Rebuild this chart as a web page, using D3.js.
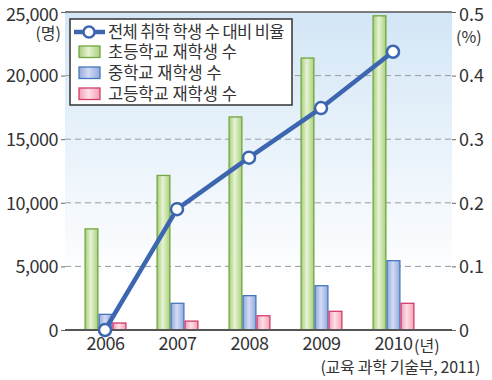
<!DOCTYPE html>
<html><head><meta charset="utf-8">
<script src="https://cdn.jsdelivr.net/npm/d3@7"></script>
<style>body{margin:0;background:#fff}svg{display:block}text{font-family:"Noto Sans CJK KR","Noto Sans",sans-serif;fill:#333}</style>
</head><body><svg id="c" width="492" height="380"></svg>
<script>
const years = ["2006","2007","2008","2009","2010"];
const elementary = [7950, 12150, 16750, 21380, 24700];
const middle = [1230, 2100, 2700, 3480, 5450];
const high = [550, 700, 1120, 1470, 2100];
const ratio = [0.0, 0.19, 0.271, 0.349, 0.4375];
const leftTicks = [0, 5000, 10000, 15000, 20000, 25000];
const rightTicks = [0, 0.1, 0.2, 0.3, 0.4, 0.5];
const legendLabels = ["전체 취학 학생 수 대비 비율","초등학교 재학생 수","중학교 재학생 수","고등학교 재학생 수"];

const svg = d3.select("#c");
const L = 65, R = 452, T = 12, B = 330;
const x = d3.scalePoint().domain(years).range([105, 393]);
const y = d3.scaleLinear().domain([0, 25000]).range([B, T]);
const y2 = d3.scaleLinear().domain([0, 0.5]).range([B, T]);

const defs = svg.append("defs");
const bg = defs.append("linearGradient").attr("id","bg").attr("x1",0).attr("y1",0).attr("x2",0).attr("y2",1);
bg.append("stop").attr("offset","0").attr("stop-color","#d3e6f6");
bg.append("stop").attr("offset","0.85").attr("stop-color","#ffffff");
function barGrad(id, edge, mid){
  const g = defs.append("linearGradient").attr("id",id).attr("x1",0).attr("y1",0).attr("x2",1).attr("y2",0);
  g.append("stop").attr("offset","0").attr("stop-color",edge);
  g.append("stop").attr("offset","0.45").attr("stop-color",mid);
  g.append("stop").attr("offset","1").attr("stop-color",edge);
}
barGrad("gG","#a9cf7c","#e6f3d4");
barGrad("gB","#95a9de","#d2dbf4");
barGrad("gP","#f59fb5","#fde0e8");

svg.append("rect").attr("x",L).attr("y",T).attr("width",R-L).attr("height",B-T).attr("fill","url(#bg)");

// grid
svg.append("g").selectAll("line").data(leftTicks.filter(d=>d>0&&d<25000)).join("line")
  .attr("x1",L).attr("x2",R).attr("y1",d=>y(d)).attr("y2",d=>y(d))
  .attr("stroke","#9a9a9a").attr("stroke-width",1).attr("stroke-dasharray","6,4");

// top border
svg.append("line").attr("x1",L).attr("x2",R).attr("y1",T).attr("y2",T).attr("stroke","#555").attr("stroke-width",1.5);

// axes
const ax = svg.append("g").attr("transform",`translate(${L},0)`)
  .call(d3.axisLeft(y).tickValues(leftTicks).tickSize(4).tickPadding(3).tickFormat(d3.format(",")));
ax.select(".domain").remove();
ax.selectAll("line").attr("stroke","#666");
ax.selectAll("text").style("font-size","18px").attr("fill","#333").attr("dy","0.35em").attr("letter-spacing","-0.5");
ax.selectAll(".tick").filter(d=>d===25000).select("text").attr("dy","0.45em");
const ax2 = svg.append("g").attr("transform",`translate(${R},0)`)
  .call(d3.axisRight(y2).tickValues(rightTicks).tickSize(4).tickPadding(3).tickFormat(d=>d===0?"0":d3.format(".1f")(d)));
ax2.select(".domain").remove();
ax2.selectAll("line").attr("stroke","#666");
ax2.selectAll("text").style("font-size","18px").attr("fill","#333").attr("dy","0.35em");
ax2.selectAll(".tick").filter(d=>d===0.5).select("text").attr("dy","0.45em");

svg.append("text").attr("x",61).attr("y",33).attr("dy","0.35em").attr("text-anchor","end").style("font-size","16px").text("(명)");
svg.append("text").attr("x",456).attr("y",37).attr("dy","0.35em").attr("text-anchor","start").style("font-size","16px").text("(%)");

// bars
const bw = 12.8;
const series = [
  {vals: elementary, off: -13.5, fill:"url(#gG)", stroke:"#72a640"},
  {vals: middle, off: 0.5, fill:"url(#gB)", stroke:"#4677bd"},
  {vals: high, off: 14.5, fill:"url(#gP)", stroke:"#d23c6c"}
];
series.forEach(s=>{
  svg.append("g").selectAll("rect").data(years).join("rect")
    .attr("x",(d)=>x(d)+s.off-bw/2).attr("width",bw)
    .attr("y",(d,i)=>y(s.vals[i])).attr("height",(d,i)=>B-y(s.vals[i]))
    .attr("fill",s.fill).attr("stroke",s.stroke).attr("stroke-width",1.3);
});

// x axis line
svg.append("line").attr("x1",L).attr("x2",R).attr("y1",B).attr("y2",B).attr("stroke","#555").attr("stroke-width",2);

// x labels
const xa = svg.append("g").attr("transform",`translate(0,${B})`).call(d3.axisBottom(x).tickSize(0).tickPadding(7));
xa.select(".domain").remove();
xa.selectAll("text").style("font-size","18px").attr("fill","#333").attr("letter-spacing","-0.5");
svg.append("text").attr("x",x("2010")+21).attr("y",B+16).attr("dy","0.35em").style("font-size","16px").text("(년)");
svg.append("text").attr("x",480).attr("y",367).attr("dy","0.35em").attr("text-anchor","end").style("font-size","16px").attr("letter-spacing","-0.3").text("(교육 과학 기술부, 2011)");

// line
const line = d3.line().x((d,i)=>x(years[i])).y(d=>y2(d));
svg.append("path").datum(ratio).attr("d",line).attr("fill","none").attr("stroke","#3d66b0").attr("stroke-width",4.5).attr("stroke-linejoin","round");
svg.append("g").selectAll("circle").data(ratio).join("circle")
  .attr("cx",(d,i)=>x(years[i])).attr("cy",d=>y2(d)).attr("r",6)
  .attr("fill","#fff").attr("stroke","#3d66b0").attr("stroke-width",2.5);

// legend
const lg = svg.append("g");
lg.append("rect").attr("x",70).attr("y",19).attr("width",222).attr("height",86).attr("fill","#fff").attr("stroke","#333").attr("stroke-width",1.5);
const rowY = [32, 52, 73, 94];
lg.append("line").attr("x1",74).attr("x2",105).attr("y1",rowY[0]).attr("y2",rowY[0]).attr("stroke","#3d66b0").attr("stroke-width",4.5);
lg.append("circle").attr("cx",89).attr("cy",rowY[0]).attr("r",5.5).attr("fill","#fff").attr("stroke","#3d66b0").attr("stroke-width",2.5);
[["url(#gG)","#72a640"],["url(#gB)","#4677bd"],["url(#gP)","#d23c6c"]].forEach((c,i)=>{
  lg.append("rect").attr("x",79).attr("y",rowY[i+1]-6).attr("width",21).attr("height",11.5)
    .attr("fill",c[0]).attr("stroke",c[1]).attr("stroke-width",1.3);
});
lg.selectAll("text").data(legendLabels).join("text")
  .attr("x",108).attr("y",(d,i)=>rowY[i]).attr("dy","0.35em").style("font-size","16.5px")
  .attr("letter-spacing",(d,i)=>i===0?"-0.6":"0").text(d=>d);
</script></body></html>
